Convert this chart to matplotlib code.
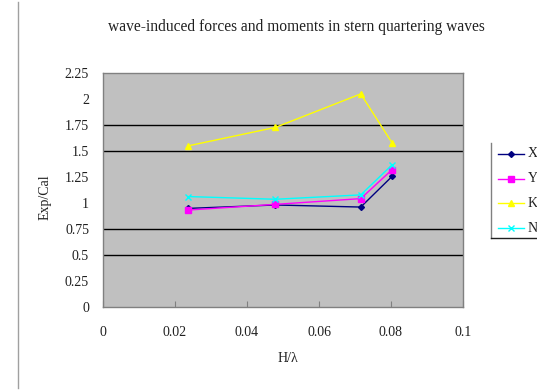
import matplotlib
matplotlib.use("Agg")
import matplotlib.pyplot as plt
from matplotlib.lines import Line2D

# Data
h_lambda = [0.0236, 0.0479, 0.0716, 0.0803]
X = [0.948, 0.981, 0.961, 1.256]
Y = [0.932, 0.987, 1.042, 1.321]
K = [1.549, 1.727, 2.049, 1.578]
N = [1.062, 1.036, 1.078, 1.367]
series_names = ["X", "Y", "K", "N"]
grid_levels = [0.5, 0.75, 1.5, 1.75]
xticks = [0, 0.02, 0.04, 0.06, 0.08, 0.1]
xticklabels = ["0", "0.02", "0.04", "0.06", "0.08", "0.1"]
yticks = [0, 0.25, 0.5, 0.75, 1, 1.25, 1.5, 1.75, 2, 2.25]
yticklabels = ["0", "0.25", "0.5", "0.75", "1", "1.25", "1.5", "1.75", "2", "2.25"]

plt.rcParams['font.family'] = ['Liberation Serif', 'DejaVu Serif']
fs = 10
tc = '#202020'

fig = plt.figure(figsize=(5.37, 3.90), dpi=100)
W, H = 537, 390
ax = fig.add_axes([103 / W, 1 - 307 / H, 360 / W, 234 / H])
ax.set_facecolor('#C0C0C0')
for s in ax.spines.values():
    s.set_color('#808080')
    s.set_linewidth(1.0)

for g in grid_levels:
    ax.axhline(g, color='black', lw=1.0, zorder=1)

styles = [
    dict(color='#000080', marker='D', ms=3),
    dict(color='#FF00FF', marker='s', ms=5),
    dict(color='#FFFF00', marker='^', ms=5),
    dict(color='#00FFFF', marker='x', ms=5, mew=1),
]
handles = []
for name, vals, st in zip(series_names, [X, Y, K, N], styles):
    l, = ax.plot(h_lambda, vals, lw=1.0, zorder=3, **st)
    handles.append(l)

ax.set_xlim(0, 0.1)
ax.set_ylim(0, 2.25)
ax.set_xticks(xticks)
ax.set_xticklabels(xticklabels, fontsize=fs, color=tc)
ax.set_yticks(yticks)
ax.set_yticklabels(yticklabels, fontsize=fs, color=tc)
ax.tick_params(axis='x', direction='in', length=4, color='#808080', pad=14)
ax.tick_params(axis='y', length=0, pad=10)

fig.text(296 / W, 1 - 27 / H, "wave-induced forces and moments in stern quartering waves",
         ha='center', va='center', fontsize=11.2, color=tc)
fig.text(288 / W, 1 - 359 / H, "H/λ", ha='center', va='center', fontsize=fs, color=tc)
fig.text(45 / W, 1 - 197 / H, "Exp/Cal", ha='center', va='center', fontsize=fs,
         rotation=90, color=tc)

# left border line of page
fig.add_artist(Line2D([18 / W, 18 / W], [1 - 388 / H, 1 - 2 / H], color='#A0A0A0', lw=1.0))

# legend
leg_y = [154, 179, 203, 228]
for h, name, yy in zip(handles, series_names, leg_y):
    yf = 1 - yy / H
    fig.add_artist(Line2D([498 / W, 524 / W], [yf, yf], color=h.get_color(), lw=1.0))
    fig.add_artist(Line2D([511 / W], [yf], color=h.get_color(), marker=h.get_marker(),
                          ms=h.get_markersize(), mew=h.get_markeredgewidth(), lw=0))
    fig.text(528 / W, yf, name, ha='left', va='center', fontsize=fs, color=tc)
fig.add_artist(Line2D([491 / W, 491 / W], [1 - 238 / H, 1 - 143 / H], color='#808080', lw=1.0))
fig.add_artist(Line2D([491 / W, 537 / W], [1 - 238 / H, 1 - 238 / H], color='#202020', lw=1.0))

fig.savefig("out.png", dpi=100)
